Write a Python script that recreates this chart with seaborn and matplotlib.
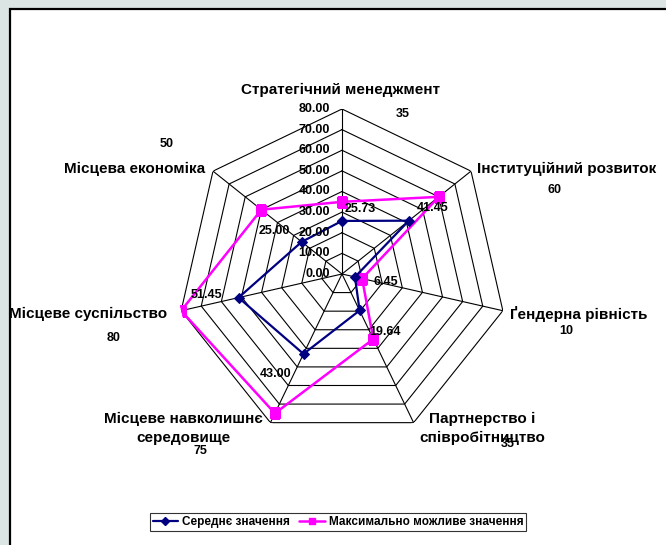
import numpy as np
import pandas as pd
import matplotlib
matplotlib.use("Agg")
import matplotlib.pyplot as plt
from matplotlib.patches import Rectangle
from matplotlib.lines import Line2D
import seaborn as sns

# дані
categories = ['Стратегічний менеджмент', 'Інституційний розвиток', 'Ґендерна рівність',
              'Партнерство і\nспівробітництво', 'Місцеве навколишнє\nсередовище',
              'Місцеве суспільство', 'Місцева економіка']
avg_values = [25.73, 41.45, 6.45, 19.64, 43.00, 51.45, 25.00]
max_values = [35, 60, 10, 35, 75, 80, 50]
r_ticks = [0, 10, 20, 30, 40, 50, 60, 70, 80]

sns.set_theme(style="white")
plt.rcParams['font.family'] = ['Liberation Sans', 'DejaVu Sans']
plt.rcParams['text.color'] = 'black'

W, H = 666, 545
fig = plt.figure(figsize=(W / 100, H / 100), dpi=100, facecolor='#dbe6e4')


def fx(x):
    return x / W


def fy(y):
    return 1 - y / H


# біла панель з рамкою
fig.patches.append(Rectangle((fx(10), fy(570)), fx(700), (570 - 9) / H, transform=fig.transFigure,
                             facecolor='white', edgecolor='black', linewidth=1.6, zorder=0))

cx, cy, R = 342, 274, 165
ax = fig.add_axes([fx(cx - R), fy(cy + R), 2 * R / W, 2 * R / H], projection='polar')
ax.set_zorder(2)
ax.set_theta_offset(np.pi / 2)
ax.set_theta_direction(-1)
ax.grid(False)
ax.spines['polar'].set_visible(False)
ax.patch.set_alpha(0)

n = len(categories)
theta = np.arange(n) * 2 * np.pi / n
theta_closed = np.append(theta, 2 * np.pi)

# сітка-семикутники
for r in r_ticks[1:]:
    ax.plot(theta_closed, [r] * (n + 1), color='black', lw=0.8, zorder=1)
for t in theta:
    ax.plot([t, t], [0, 80], color='black', lw=0.8, zorder=1)

df = pd.DataFrame({
    'theta': np.concatenate([theta_closed, theta_closed]),
    'value': avg_values + avg_values[:1] + max_values + max_values[:1],
    'series': ['Середнє значення'] * (n + 1) + ['Максимально можливе значення'] * (n + 1),
})

sns.lineplot(data=df[df.series == 'Максимально можливе значення'], x='theta', y='value',
             sort=False, estimator=None, color='#ff00ff', marker='s', markersize=7.5,
             markeredgecolor='#ff00ff', lw=1.8, ax=ax, zorder=3, legend=False)
sns.lineplot(data=df[df.series == 'Середнє значення'], x='theta', y='value',
             sort=False, estimator=None, color='#000080', marker='D', markersize=5,
             markeredgecolor='#000080', lw=1.6, ax=ax, zorder=4, legend=False)
ax.set_xlabel('')
ax.set_ylabel('')
ax.set_xticks([])
ax.set_yticks([])
ax.set_ylim(0, 80)

# підписи шкали
for r in r_ticks:
    fig.text(fx(330), fy(cy - R * r / 80), f'{r:.2f}', ha='right', va='center',
             fontsize=9, fontweight='bold', zorder=5)

# підписи значень середнього
offsets = [(18, 12), (24, 13), (31, -5), (25, -22), (-28, -20), (-32, 3), (-27, 11)]
for t, v, (dx, dy) in zip(theta, avg_values, offsets):
    ax.annotate(f'{v:.2f}', xy=(t, v), xytext=(dx, dy), textcoords='offset pixels',
                ha='center', va='center', fontsize=9, fontweight='bold', zorder=5)

# назви категорій
cat_pos = [(341, 90, 'center'), (477, 169, 'left'), (510, 314, 'left'), (482, 428, 'center'),
           (183, 428, 'center'), (167, 314, 'right'), (205, 169, 'right')]
for lab, (x, y, ha) in zip(categories, cat_pos):
    fig.text(fx(x), fy(y), lab, ha=ha, va='center', fontsize=11, fontweight='bold',
             linespacing=1.45, zorder=5)

# максимальні значення
max_pos = [(403, 114), (555, 190), (566, 331), (508, 444), (200, 451), (114, 338), (167, 144)]
for v, (x, y) in zip(max_values, max_pos):
    fig.text(fx(x), fy(y), str(v), ha='center', va='center', fontsize=9, fontweight='bold',
             zorder=5)

handles = [Line2D([], [], color='#000080', marker='D', markersize=4, lw=1.6),
           Line2D([], [], color='#ff00ff', marker='s', markersize=5, lw=1.8)]
leg = fig.legend(handles, ['Середнє значення', 'Максимально можливе значення'],
                 loc='center', bbox_to_anchor=(fx(338), fy(522)), ncol=2, frameon=True,
                 fancybox=False, edgecolor='black', handlelength=2.2, handletextpad=0.3,
                 columnspacing=0.8, borderpad=0.25, prop={'size': 8.5, 'weight': 'bold'})
leg.get_frame().set_linewidth(0.8)
leg.set_zorder(5)

fig.savefig('out.png', dpi=100, facecolor=fig.get_facecolor())
